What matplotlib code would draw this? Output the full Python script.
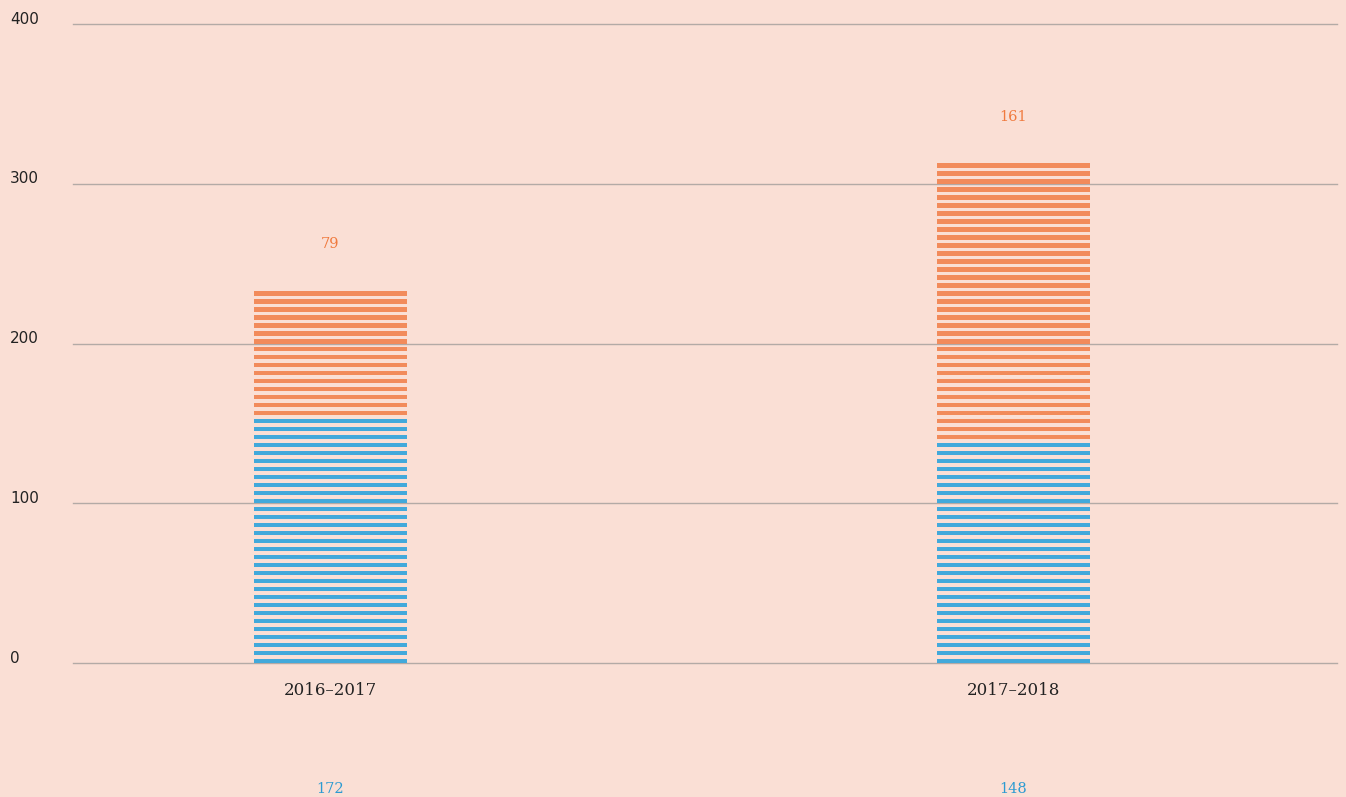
import matplotlib.pyplot as plt
import matplotlib.transforms as mtransforms

# Data
seasons = ['2016–2017', '2017–2018']
blue_heights = [155, 140]      # drawn height of lower (blue) stack
orange_heights = [80, 175]     # drawn height of upper (orange) stack
blue_labels = ['172', '148']
orange_labels = ['79', '161']
y_ticks = [0, 100, 200, 300, 400]

bg = '#fadfd5'
blue = '#42a9db'
orange = '#f28b5b'
blue_text = '#2b9bd2'
orange_text = '#f07a3e'
grid_col = '#b3aaa6'

STEP = 5      # one stripe every 5 units
STRIPE = 2.7  # stripe thickness
BAR_W = 0.224

fig = plt.figure(figsize=(13.46, 7.97), dpi=100, facecolor=bg)
ax = fig.add_axes([73 / 1346, 134 / 797, 1264 / 1346, 639 / 797])
ax.set_facecolor(bg)
ax.set_xlim(-0.377, 1.474)
ax.set_ylim(0, 400)

# gridlines
for t in y_ticks:
    ax.axhline(t, color=grid_col, linewidth=1, zorder=1, clip_on=False)


def draw_stripes(x, bottom, top, color):
    ys = [k * STEP for k in range(int(bottom // STEP), int(top // STEP) + 1)
          if bottom <= k * STEP < top]
    ax.bar([x] * len(ys), [STRIPE] * len(ys), bottom=ys, width=BAR_W,
           color=color, linewidth=0, zorder=2)


for i in range(len(seasons)):
    b = blue_heights[i]
    o = orange_heights[i]
    draw_stripes(i, 0, b, blue)
    draw_stripes(i, b, b + o, orange)
    # labels
    ax.text(i, b + o + 27, orange_labels[i], ha='center', va='center',
            color=orange_text, fontsize=10.5, family='DejaVu Serif')
    ax.text(i, -79, blue_labels[i], ha='center', va='center',
            color=blue_text, fontsize=10.5, family='DejaVu Serif', clip_on=False)
    ax.text(i, -17, seasons[i], ha='center', va='center',
            color='#222222', fontsize=12, family='DejaVu Serif', clip_on=False)

# y tick labels at the far left of the figure
trans = mtransforms.blended_transform_factory(fig.transFigure, ax.transData)
for t in y_ticks:
    ax.text(10 / 1346, t + 3, str(t), transform=trans, ha='left', va='center',
            fontsize=11, color='#222222', clip_on=False)

ax.set_xticks([])
ax.set_yticks([])
for s in ax.spines.values():
    s.set_visible(False)

fig.savefig('out.png', dpi=100, facecolor=bg)
